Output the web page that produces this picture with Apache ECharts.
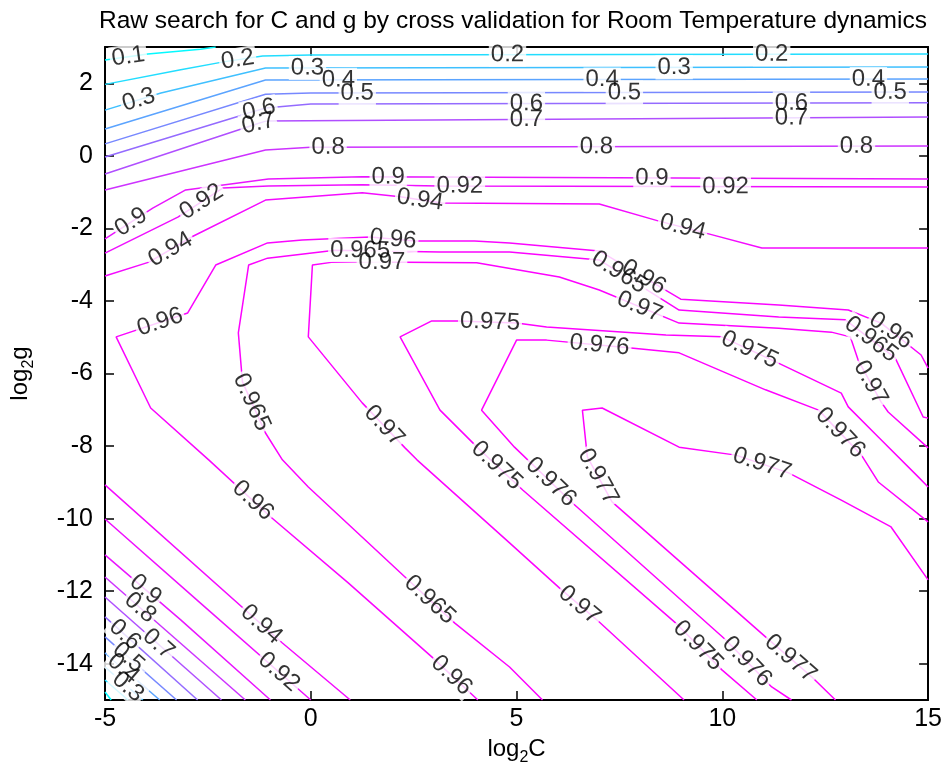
<!DOCTYPE html>
<html>
<head>
<meta charset="utf-8">
<script src="https://cdn.jsdelivr.net/npm/echarts@6/dist/echarts.min.js"></script>
<style>
  html, body { margin: 0; padding: 0; background: #fff; }
  #chart { width: 945px; height: 776px; }
</style>
</head>
<body>
<div id="chart"></div>
<script>
// Cross-validation accuracy contours over (log2 C, log2 gamma).
const FONT = '"Liberation Sans", Arial, Helvetica, sans-serif';

const xTicks = [-5, 0, 5, 10, 15];
const yTicks = [2, 0, -2, -4, -6, -8, -10, -12, -14];

// Contour polylines, points are [log2C, log2g]
// upper band (accuracy falls toward large gamma)
const c010a = [[-5, 2.64], [-3.96, 2.81], [-2.68, 2.94], [-2.31, 3.0]];
const c020a = [[-5, 1.97], [-3.16, 2.37], [-2.12, 2.59], [-1.17, 2.75], [0, 2.78], [15, 2.81]];
const c030a = [[-5, 1.26], [-3.64, 1.73], [-1.10, 2.42], [15, 2.45]];
const c040a = [[-5, 0.74], [-1.10, 2.09], [15, 2.12]];
const c050a = [[-5, 0.33], [-1.10, 1.70], [0, 1.73], [15, 1.76]];
const c060a = [[-5, -0.03], [-1.10, 1.32], [0, 1.43], [15, 1.46]];
const c070a = [[-5, -0.50], [-1.10, 0.96], [15, 1.07]];
const c080a = [[-5, -0.94], [-1.10, 0.16], [0, 0.24], [15, 0.27]];
const c090a = [[-5, -2.29], [-3.84, -1.44], [-3.04, -0.94], [-1.03, -0.64], [1.25, -0.58], [15, -0.64]];
const c092a = [[-5, -2.68], [-3.23, -1.69], [-2.14, -0.89], [-1.03, -0.83], [1.25, -0.80], [3.14, -0.83], [15, -0.86]];
const c094a = [[-5, -3.31], [-3.93, -2.93], [-2.85, -2.21], [-1.10, -1.22], [1.25, -1.02], [2.17, -1.13],
               [3.18, -1.30], [7.01, -1.33], [8.46, -1.80], [9.60, -2.13], [10.96, -2.54], [15, -2.54]];

// lower-left corner band (accuracy falls toward small C and small gamma)
const c010b = [[-5, -14.78], [-4.85, -15]];
const c020b = [[-5, -14.45], [-4.44, -15]];
const c030b = [[-5, -14.09], [-4.08, -15]];
const c040b = [[-5, -13.70], [-3.67, -15]];
const c050b = [[-5, -13.26], [-3.26, -15]];
const c060b = [[-5, -12.71], [-2.75, -15]];
const c070b = [[-5, -12.16], [-2.17, -15]];
const c080b = [[-5, -11.61], [-1.59, -15]];
const c090b = [[-5, -11.0], [-3.16, -12.79], [-0.98, -15]];
const c092b = [[-5, -10.01], [-2.68, -12.33], [0, -15]];
const c094b = [[-5, -9.07], [-0.69, -13.43], [0.96, -15]];

// nested high-accuracy contours
const c0960 = [[15, -5.85], [14.83, -5.49], [13.86, -4.61], [13.06, -4.25], [11.37, -4.11], [8.99, -3.95],
               [7.01, -2.62], [4.83, -2.40], [3.98, -2.35], [2.53, -2.35], [1.44, -2.24], [-0.21, -2.32],
               [-1.05, -2.40], [-2.31, -3.01], [-2.99, -4.33], [-4.73, -4.99], [-3.89, -6.95], [-2.48, -8.38],
               [-0.98, -9.95], [0.91, -11.77], [2.94, -13.81], [4.06, -15]];
const c0965 = [[15, -7.23], [14.88, -7.20], [14.2, -5.57], [12.99, -4.52], [11.37, -4.44], [8.95, -4.25],
               [7.01, -2.87], [4.83, -2.65], [3.14, -2.65], [0.59, -2.60], [-1.05, -2.82], [-1.51, -3.01],
               [-1.76, -4.88], [-1.66, -6.23], [-1.10, -7.64], [-0.69, -8.38], [-0.06, -9.13], [2.29, -11.61],
               [3.50, -12.88], [4.83, -14.09], [5.63, -15]];
const c0970 = [[15, -8.05], [14.03, -7.06], [13.86, -6.79], [13.30, -5.63], [13.11, -4.99], [12.65, -4.86],
               [11.37, -4.75], [8.95, -4.61], [7.01, -3.70], [6.04, -3.34], [4.03, -2.95], [2.24, -2.93],
               [0.54, -2.93], [0.04, -3.01], [-0.06, -4.99], [1.25, -6.81], [2.29, -8.05], [2.58, -8.38],
               [4.83, -10.67], [6.04, -11.91], [7.01, -12.85], [9.07, -15]];
const c0975 = [[15, -9.13], [14.76, -8.85], [13.79, -7.75], [13.06, -6.92], [12.89, -6.54], [11.30, -5.68],
               [9.99, -4.99], [8.63, -4.94], [5.73, -4.72], [5.00, -4.61], [3.57, -4.55], [2.94, -4.55],
               [2.17, -4.99], [3.14, -7.01], [4.06, -8.05], [5.15, -9.21], [8.87, -12.88], [9.99, -14.17], [10.84, -15]];
const c0976 = [[15, -10.09], [13.79, -8.99], [13.38, -8.25], [12.34, -7.01], [11.05, -6.45], [8.95, -5.43],
               [7.78, -5.30], [5.73, -5.08], [5.00, -5.08], [4.15, -7.01], [4.95, -8.03], [6.36, -9.57],
               [10.08, -13.34], [11.2, -14.64], [11.68, -15]];
const c0977 = [[15, -11.69], [14.1, -10.23], [12.89, -9.49], [11.61, -8.74], [10.33, -8.25], [8.95, -8.03],
               [7.08, -6.95], [6.60, -7.01], [6.72, -8.30], [7.32, -9.54], [11.05, -13.26], [12.17, -14.36], [12.75, -15]];

const contourLines = [
  [0.1, c010a], [0.2, c020a], [0.3, c030a], [0.4, c040a], [0.5, c050a], [0.6, c060a], [0.7, c070a],
  [0.8, c080a], [0.9, c090a], [0.92, c092a], [0.94, c094a],
  [0.1, c010b], [0.2, c020b], [0.3, c030b], [0.4, c040b], [0.5, c050b], [0.6, c060b], [0.7, c070b],
  [0.8, c080b], [0.9, c090b], [0.92, c092b], [0.94, c094b],
  [0.96, c0960], [0.965, c0965], [0.97, c0970], [0.975, c0975], [0.976, c0976], [0.977, c0977]
];

// inline label spots: [level, approx log2C, approx log2g]; snapped onto the level's line
const labelSpots = [
  [0.1, -4.42, 2.64], [0.2, -1.76, 2.53], [0.2, 4.78, 2.78], [0.2, 11.2, 2.78],
  [0.3, -4.18, 1.54], [0.3, -0.08, 2.42], [0.3, 8.83, 2.42],
  [0.4, 0.67, 2.09], [0.4, 7.08, 2.09], [0.4, 13.55, 2.09],
  [0.5, 1.13, 1.73], [0.5, 7.62, 1.73], [0.5, 14.08, 1.73],
  [0.6, -1.27, 1.32], [0.6, 5.24, 1.46], [0.6, 11.68, 1.46],
  [0.7, -1.27, 0.88], [0.7, 5.24, 1.07], [0.7, 11.68, 1.07],
  [0.8, 0.42, 0.16], [0.8, 6.94, 0.27], [0.8, 13.26, 0.27],
  [0.9, -4.37, -1.82], [0.9, 1.88, -0.67], [0.9, 8.29, -0.67],
  [0.92, -2.68, -1.22], [0.92, 3.62, -0.89], [0.92, 10.08, -0.94],
  [0.94, -3.40, -2.60], [0.94, 2.65, -1.27], [0.94, 9.02, -2.04],
  [0.96, -3.64, -4.66], [0.96, 2.0, -2.32], [0.96, 8.05, -3.42], [0.96, 13.91, -5.08],
  [0.96, -1.44, -9.54], [0.96, 3.43, -14.31],
  [0.965, 1.2, -2.60], [0.965, 7.49, -3.20], [0.965, 13.6, -5.08], [0.965, -1.59, -6.87], [0.965, 2.89, -12.24],
  [0.97, 1.73, -2.93], [0.97, 7.98, -4.19], [0.97, 13.6, -6.26], [0.97, 1.76, -7.47], [0.97, 6.53, -12.38],
  [0.975, 4.35, -4.72], [0.975, 10.64, -5.41], [0.975, 4.47, -8.60], [0.975, 9.38, -13.54],
  [0.976, 7.01, -5.30], [0.976, 12.89, -7.61], [0.976, 5.77, -9.07], [0.976, 10.59, -13.95],
  [0.977, 10.96, -8.52], [0.977, 6.84, -8.93], [0.977, 11.73, -13.76],
  [0.94, -1.17, -12.88], [0.92, -0.79, -14.25],
  [0.9, -4.06, -12.02], [0.8, -4.15, -12.46], [0.7, -3.72, -13.48],
  [0.6, -4.54, -13.23], [0.5, -4.42, -13.81], [0.4, -4.56, -14.14], [0.3, -4.47, -14.67]
];

// 'cool' colour map over the accuracy range
const C_LOW = 0.08, C_HIGH = 0.977;
function levelColor(v) {
  const t = Math.max(0, Math.min(1, (v - C_LOW) / (C_HIGH - C_LOW)));
  return 'rgb(' + Math.round(255 * t) + ',' + Math.round(255 * (1 - t)) + ',255)';
}

const chart = echarts.init(document.getElementById('chart'), null, { renderer: 'canvas' });

const frameLine = { show: true, onZero: false, lineStyle: { color: '#000', width: 2 } };
const tickStyle = { color: '#000', width: 1.5 };
const nameRich = {
  a: { fontSize: 24, fontFamily: FONT, color: '#000', lineHeight: 27, padding: [0, 0, 5, 0], verticalAlign: 'bottom' },
  b: { fontSize: 16, fontFamily: FONT, color: '#000', lineHeight: 16, verticalAlign: 'bottom' }
};

const lineSeries = contourLines.map(([lv, pts]) => ({
  type: 'line',
  data: pts,
  symbol: 'none',
  silent: true,
  animation: false,
  clip: true,
  z: 2,
  lineStyle: { color: levelColor(lv), width: 1.5 },
  emphasis: { disabled: true }
}));

chart.setOption({
  animation: false,
  backgroundColor: '#fff',
  title: {
    text: 'Raw search for C and g by cross validation for Room Temperature dynamics',
    left: 508, top: 4, textAlign: 'center',
    textStyle: { fontSize: 24.5, fontWeight: 'normal', color: '#000', fontFamily: FONT }
  },
  grid: { left: 104, right: 15, top: 47, bottom: 76 },
  xAxis: [
    {
      type: 'value', min: -5, max: 15, interval: 5, position: 'bottom',
      axisLine: frameLine,
      axisTick: { show: true, inside: true, length: 9, lineStyle: tickStyle },
      axisLabel: { color: '#000', fontSize: 25, fontFamily: FONT, margin: 7 },
      splitLine: { show: false },
      name: '{a|log}{b|2}{a|C}', nameLocation: 'middle', nameGap: 38,
      nameTextStyle: { rich: nameRich }
    },
    {
      type: 'value', min: -5, max: 15, interval: 5, position: 'top',
      axisLine: frameLine,
      axisTick: { show: true, inside: true, length: 9, lineStyle: tickStyle },
      axisLabel: { show: false }, splitLine: { show: false }
    }
  ],
  yAxis: [
    {
      type: 'value', min: -15, max: 3, position: 'left',
      axisLine: frameLine,
      axisTick: { show: true, inside: true, length: 9, lineStyle: tickStyle, customValues: yTicks },
      axisLabel: { color: '#000', fontSize: 25, fontFamily: FONT, margin: 12, customValues: yTicks },
      splitLine: { show: false },
      name: '{a|log}{b|2}{a|g}', nameLocation: 'middle', nameGap: 68, nameRotate: 90,
      nameTextStyle: { rich: nameRich }
    },
    {
      type: 'value', min: -15, max: 3, position: 'right',
      axisLine: frameLine,
      axisTick: { show: true, inside: true, length: 9, lineStyle: tickStyle, customValues: yTicks },
      axisLabel: { show: false }, splitLine: { show: false }
    }
  ],
  series: lineSeries
});

// Place inline level labels along their contour, rotated with the local direction.
function toPx(p) { return chart.convertToPixel({ xAxisIndex: 0, yAxisIndex: 0 }, p); }
function fromPx(p) { return chart.convertFromPixel({ xAxisIndex: 0, yAxisIndex: 0 }, p); }

function pointAt(px, cum, s) {
  s = Math.max(0, Math.min(cum[cum.length - 1], s));
  for (let i = 0; i < px.length - 1; i++) {
    if (s <= cum[i + 1] || i === px.length - 2) {
      const seg = cum[i + 1] - cum[i] || 1e-9;
      const t = (s - cum[i]) / seg;
      return [px[i][0] + t * (px[i + 1][0] - px[i][0]), px[i][1] + t * (px[i + 1][1] - px[i][1])];
    }
  }
  return px[px.length - 1];
}

const labelData = [];
labelSpots.forEach(([lv, hx, hy]) => {
  const hint = toPx([hx, hy]);
  let best = null;
  contourLines.forEach(([clv, pts]) => {
    if (clv !== lv) return;
    const px = pts.map(toPx);
    const cum = [0];
    for (let i = 1; i < px.length; i++) {
      cum.push(cum[i - 1] + Math.hypot(px[i][0] - px[i - 1][0], px[i][1] - px[i - 1][1]));
    }
    for (let i = 0; i < px.length - 1; i++) {
      const a = px[i], b = px[i + 1];
      const vx = b[0] - a[0], vy = b[1] - a[1];
      const L2 = vx * vx + vy * vy || 1e-9;
      let t = ((hint[0] - a[0]) * vx + (hint[1] - a[1]) * vy) / L2;
      t = Math.max(0, Math.min(1, t));
      const q = [a[0] + t * vx, a[1] + t * vy];
      const d = Math.hypot(q[0] - hint[0], q[1] - hint[1]);
      if (!best || d < best.d) best = { d, q, s: cum[i] + t * Math.sqrt(L2), px, cum };
    }
  });
  if (!best) return;
  const p0 = pointAt(best.px, best.cum, best.s - 22);
  const p1 = pointAt(best.px, best.cum, best.s + 22);
  let ang = Math.atan2(-(p1[1] - p0[1]), p1[0] - p0[0]) * 180 / Math.PI;
  if (ang > 90) ang -= 180;
  if (ang <= -90) ang += 180;
  labelData.push({ value: fromPx(best.q), name: String(lv), rot: ang });
});

function labelSeries(withBox) {
  return {
    type: 'scatter',
    silent: true,
    animation: false,
    symbolSize: 1,
    itemStyle: { color: 'rgba(0,0,0,0)' },
    z: withBox ? 3 : 4,
    data: labelData.map(d => ({
      value: d.value,
      name: d.name,
      label: { rotate: d.rot }
    })),
    label: {
      show: true,
      position: 'inside',
      formatter: p => p.name,
      fontSize: 24,
      fontFamily: FONT,
      color: withBox ? 'rgba(0,0,0,0)' : '#000',
      textBorderWidth: 0,
      backgroundColor: withBox ? '#fff' : 'transparent',
      padding: withBox ? [0, 2] : 0
    },
    emphasis: { disabled: true }
  };
}

chart.setOption({ series: lineSeries.concat([labelSeries(true), labelSeries(false)]) });
</script>
</body>
</html>
